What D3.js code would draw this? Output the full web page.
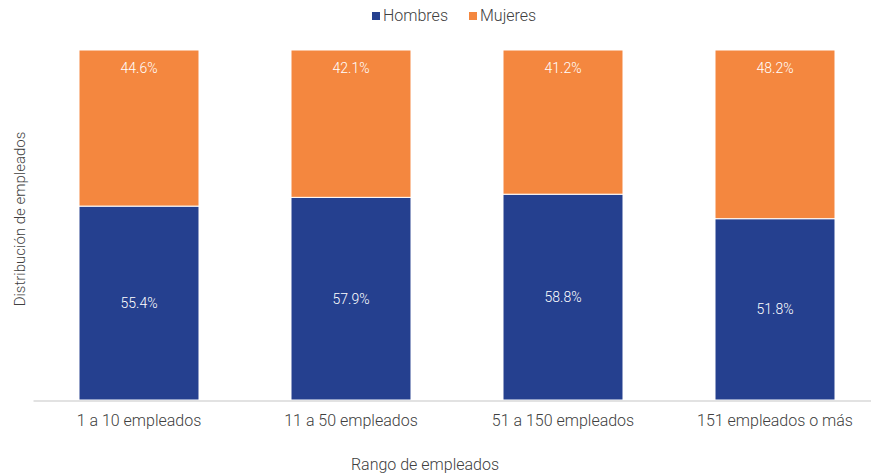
<!DOCTYPE html>
<html>
<head>
<meta charset="utf-8">
<script src="https://cdn.jsdelivr.net/npm/d3@7"></script>
<style>
  body { margin: 0; background: #fff; }
  svg { display: block; font-family: Roboto, "Noto Sans", sans-serif; }
</style>
</head>
<body>
<svg id="chart" width="871" height="476"></svg>
<script>
const categories = ["1 a 10 empleados", "11 a 50 empleados", "51 a 150 empleados", "151 empleados o más"];
const hombres = [55.4, 57.9, 58.8, 51.8];
const mujeres = [44.6, 42.1, 41.2, 48.2];
const seriesNames = ["Hombres", "Mujeres"];
const colors = ["#25408F", "#F4873F"];

(function () {
const svg = d3.select("#chart");
const mLeft = 33, mRight = 881, mTop = 50, mBottom = 400;

const x = d3.scaleBand().domain(categories).range([mLeft, mRight]).paddingInner(0.434).paddingOuter(0.217);
const y = d3.scaleLinear().domain([0, 100]).range([mBottom, mTop]);

const rows = categories.map((c, i) => ({cat: c, Hombres: hombres[i], Mujeres: mujeres[i]}));
const stack = d3.stack().keys(seriesNames)(rows);

const g = svg.append("g");
stack.forEach((s, si) => {
  g.selectAll(null).data(s).enter().append("rect")
    .attr("x", d => x(d.data.cat))
    .attr("width", x.bandwidth())
    .attr("y", d => y(d[1]))
    .attr("height", d => y(d[0]) - y(d[1]))
    .attr("fill", colors[si])
    .attr("stroke", "#fff")
    .attr("stroke-width", 1);
});

stack.forEach((s, si) => {
  g.selectAll(null).data(s).enter().append("text")
    .attr("x", d => x(d.data.cat) + x.bandwidth() / 2)
    .attr("y", d => si === 0 ? (y(d[0]) + y(d[1])) / 2 : y(d[1]) + 18)
    .attr("dy", "0.35em")
    .attr("text-anchor", "middle")
    .attr("fill", "#fff")
    .attr("font-size", 14)
    .attr("font-weight", 300)
    .text(d => (d[1] - d[0]).toFixed(1) + "%");
});

const xAxis = d3.axisBottom(x).tickSize(0).tickPadding(14);
const ax = svg.append("g").attr("transform", `translate(0,${mBottom + 0.5})`).call(xAxis);
ax.select(".domain").attr("stroke", "#d9d9d9").attr("stroke-width", 1.5);
ax.selectAll("text").attr("font-size", 16).attr("fill", "#404040").attr("font-family", "Roboto").attr("font-weight", 300);

svg.append("text").attr("x", 425).attr("y", 464).attr("dy", "0.35em")
  .attr("text-anchor", "middle").attr("font-size", 16).attr("font-weight", 300).attr("fill", "#404040")
  .text("Rango de empleados");
svg.append("text").attr("transform", "translate(20,219) rotate(-90)").attr("dy", "0.35em")
  .attr("text-anchor", "middle").attr("font-size", 15).attr("font-weight", 300).attr("fill", "#404040")
  .text("Distribución de empleados");

const legend = svg.append("g");
const legendItems = [{name: seriesNames[0], color: colors[0], x: 372}, {name: seriesNames[1], color: colors[1], x: 469}];
legendItems.forEach(it => {
  legend.append("rect").attr("x", it.x).attr("y", 12).attr("width", 8).attr("height", 8).attr("fill", it.color);
  legend.append("text").attr("x", it.x + 11).attr("y", 15.5).attr("dy", "0.35em")
    .attr("font-size", 16).attr("font-weight", 300).attr("fill", "#404040").text(it.name);
});
})();
</script>
</body>
</html>
